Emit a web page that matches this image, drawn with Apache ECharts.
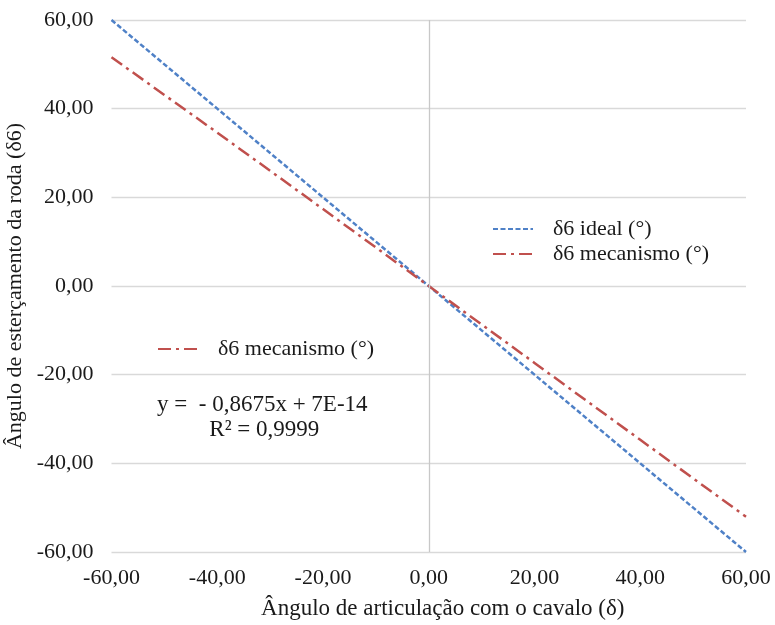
<!DOCTYPE html>
<html>
<head>
<meta charset="utf-8">
<script src="https://cdn.jsdelivr.net/npm/echarts@6/dist/echarts.min.js"></script>
<style>
  html, body { margin: 0; padding: 0; background: #fff; }
  #chart { width: 775px; height: 625px; }
</style>
</head>
<body>
<div id="chart"></div>
<script>
// Articulation angle with the tractor (δ), degrees
const articulacao = [-60, -50, -40, -30, -20, -10, 0, 10, 20, 30, 40, 50, 60];
// Ideal wheel steering angle δ6 (°)
const delta6Ideal = [60, 50, 40, 30, 20, 10, 0, -10, -20, -30, -40, -50, -60];
// Steering angle produced by the mechanism δ6 (°)
const delta6Mecanismo = [51.6, 43.1, 34.6, 26.0, 17.35, 8.68, 0, -8.68, -17.35, -26.03, -34.70, -43.38, -52.05];
// Axis ticks
const xTicks = [-60, -40, -20, 0, 20, 40, 60];
const yTicks = [-60, -40, -20, 0, 20, 40, 60];
// Linear fit of the mechanism curve
const equacao = 'y =  - 0,8675x + 7E-14';
const r2 = 'R² = 0,9999';

const FONT = '"Liberation Serif", "Times New Roman", serif';
const FS = 22;
const INK = '#1a1a1a';
const fmt = v => v.toFixed(2).replace('.', ',');
const pairs = (xs, ys) => xs.map((x, i) => [x, ys[i]]);

const legendText = { fontFamily: FONT, fontSize: FS, color: INK, lineHeight: 20, padding: [0, 0, 0, 15] };

const chart = echarts.init(document.getElementById('chart'), null, { renderer: 'canvas' });

chart.setOption({
  animation: false,
  backgroundColor: '#ffffff',
  grid: { left: 111.5, right: 29, top: 20, bottom: 73, containLabel: false, outerBoundsMode: 'none' },
  xAxis: {
    type: 'value',
    min: xTicks[0], max: xTicks[xTicks.length - 1], interval: 20,
    name: 'Ângulo de articulação com o cavalo (δ)',
    nameLocation: 'middle', nameGap: 45,
    nameTextStyle: { fontFamily: FONT, fontSize: 23, color: INK, padding: [0, 0, 0, 28] },
    axisLine: { show: false },
    axisTick: { show: false },
    splitLine: { show: false },
    axisLabel: { fontFamily: FONT, fontSize: FS, color: INK, margin: 15, formatter: fmt }
  },
  yAxis: {
    type: 'value',
    min: yTicks[0], max: yTicks[yTicks.length - 1], interval: 20,
    name: 'Ângulo de esterçamento da roda (δ6)',
    nameLocation: 'middle', nameGap: 73, nameRotate: 90,
    nameTextStyle: { fontFamily: FONT, fontSize: FS, color: INK },
    axisLine: { show: false },
    axisTick: { show: false },
    splitLine: { show: true, lineStyle: { color: '#d9d9d9', width: 1.3 } },
    axisLabel: { fontFamily: FONT, fontSize: FS, color: INK, margin: 18, formatter: fmt }
  },
  legend: [
    {
      orient: 'vertical',
      left: 487, top: 213,
      itemWidth: 40, itemHeight: 14, itemGap: 3,
      itemStyle: { opacity: 0 },
      data: ['δ6 ideal (°)', 'δ6 mecanismo (°)'],
      textStyle: legendText
    },
    {
      orient: 'vertical',
      left: 152, top: 333,
      itemWidth: 40, itemHeight: 14,
      itemStyle: { opacity: 0 },
      data: ['δ6 mecanismo (°)'],
      textStyle: legendText
    }
  ],
  graphic: [
    {
      type: 'group', left: 157, top: 393,
      children: [
        { type: 'text', x: 106, y: 0, style: { text: equacao, font: '23px ' + FONT, fill: INK, align: 'center' } },
        { type: 'text', x: 108, y: 25, style: { text: r2, font: '23px ' + FONT, fill: INK, align: 'center' } }
      ]
    }
  ],
  series: [
    {
      name: 'eixo',
      type: 'line',
      data: [],
      silent: true,
      markLine: {
        silent: true,
        symbol: 'none',
        label: { show: false },
        lineStyle: { color: '#c8c8c8', width: 1.3, type: 'solid' },
        data: [{ xAxis: 0 }]
      }
    },
    {
      name: 'δ6 ideal (°)',
      type: 'line',
      data: pairs(articulacao, delta6Ideal),
      showSymbol: false, symbol: 'none',
      lineStyle: { color: '#4f81c7', width: 2.5, type: [5, 2.5] },
      itemStyle: { color: '#4f81c7' },
      z: 3
    },
    {
      name: 'δ6 mecanismo (°)',
      type: 'line',
      data: pairs(articulacao, delta6Mecanismo),
      showSymbol: false, symbol: 'none',
      lineStyle: { color: '#c0504d', width: 2.5, type: [13, 5, 3, 5] },
      itemStyle: { color: '#c0504d' },
      z: 4
    }
  ]
});
</script>
</body>
</html>
